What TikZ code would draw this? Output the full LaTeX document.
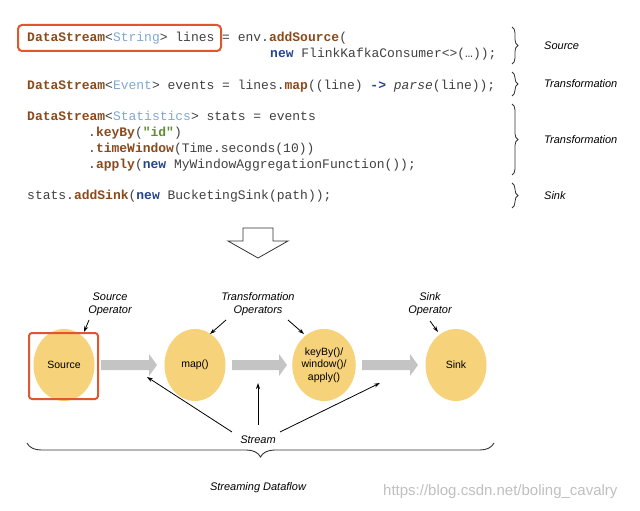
\documentclass[tikz,border=0pt]{standalone}
\usepackage{fontspec}
\setmainfont{Liberation Sans}
\setmonofont{Liberation Mono}
\usetikzlibrary{decorations.pathreplacing,arrows.meta,shapes.geometric}
\definecolor{kw}{HTML}{8A4A1C}
\definecolor{ty}{HTML}{7FA8D4}
\definecolor{nw}{HTML}{24448C}
\definecolor{st}{HTML}{5E8F2E}
\definecolor{yel}{HTML}{F6D27A}
\definecolor{red}{HTML}{E0562E}
\definecolor{gar}{HTML}{C4C4C4}
\newcommand{\K}[1]{\textcolor{kw}{\textbf{#1}}}
\newcommand{\T}[1]{\textcolor{ty}{#1}}
\newcommand{\N}[1]{\textcolor{nw}{\textbf{#1}}}
\begin{document}
\begin{tikzpicture}[x=1pt,y=-1pt,
 code/.style={anchor=base west,inner sep=0,font=\ttfamily\fontsize{13}{15}\selectfont,text=black!75},
 lab/.style={font=\itshape\fontsize{11}{13}\selectfont,align=center,inner sep=0},
 brc/.style={decorate,decoration={brace,amplitude=6pt},thick,black!80},
 op/.style={ellipse,fill=yel,minimum width=61pt,minimum height=72pt,inner sep=0,font=\fontsize{10.5}{12.5}\selectfont,align=center},
 thin/.style={-{Stealth[length=6pt,width=4pt]},black,line width=0.8pt}]
\useasboundingbox (0,0) rectangle (640,511);
\node[code] (c1) at (27,42) {\K{DataStream}<\T{String}> lines = env.\K{addSource}(};
\node[code] (c2) at (270,58) {\N{new} FlinkKafkaConsumer<>(…));};
\node[code] (c3) at (27,89) {\K{DataStream}<\T{Event}> events = lines.\K{map}((line) \N{->} \textit{parse}(line));};
\node[code] (c4) at (27,121) {\K{DataStream}<\T{Statistics}> stats = events};
\node[code] (c5) at (88,136) {.\K{keyBy}(\textcolor{st}{\textbf{"id"}})};
\node[code] (c6) at (88,152) {.\K{timeWindow}(Time.seconds(10))};
\node[code] (c7) at (88,168) {.\K{apply}(\N{new} MyWindowAggregationFunction());};
\node[code] (c8) at (27,199) {stats.\K{addSink}(\N{new} BucketingSink(path));};
\draw[red,line width=2pt,rounded corners=4pt] (18,25) rectangle (221,51);
\draw[brc] (512,27) -- (512,64);
\draw[brc] (512,72) -- (512,96);
\draw[brc] (512,104) -- (512,175);
\draw[brc] (512,183) -- (512,208);
\node[lab,anchor=west] (l1) at (544,46) {Source};
\node[lab,anchor=west] (l2) at (544,84) {Transformation};
\node[lab,anchor=west] (l3) at (544,140) {Transformation};
\node[lab,anchor=west] (l4) at (544,196) {Sink};
\draw[black!80,line width=0.8pt] (243,228) -- (273,228) -- (273,241) -- (288,241) -- (258,258) -- (228,241) -- (243,241) -- cycle;
% operators
\node[op] (src) at (64,365) {Source};
\node[op] (map) at (195,365) {map()};
\node[op] (kb) at (324,365) {keyBy()/\\window()/\\apply()};
\node[op] (snk) at (456,365) {Sink};
\draw[red,line width=2pt,rounded corners=3pt] (29,333) rectangle (98,399);
\foreach \a/\b in {101/157,232/287,362/418}{
 \fill[gar] (\a,360) -- (\b-8,360) -- (\b-8,354) -- (\b,365) -- (\b-8,376) -- (\b-8,370) -- (\a,370) -- cycle;}
\node[lab] (so) at (110,304) {Source\\Operator};
\node[lab] (to) at (258,304) {Transformation\\Operators};
\node[lab] (sko) at (430,304) {Sink\\Operator};
\draw[thin] (89,320) -- (84,332);
\draw[thin] (226,320) -- (210,334);
\draw[thin] (288,320) -- (304,334);
\draw[thin] (430,321) -- (438,332);
\node[lab] (stm) at (258,440) {Stream};
\draw[thin] (232,432) -- (147,377);
\draw[thin] (258,425) -- (258,383);
\draw[thin] (280,432) -- (380,383);
\draw[decorate,decoration={brace,mirror,amplitude=14pt},line width=0.9pt,black!80] (27,443) -- (494,443);
\node[lab] (sdf) at (258,488) {Streaming Dataflow};
\node[anchor=west,inner sep=0,font=\fontsize{15}{17}\selectfont,text=black!25] (wm) at (383,492) {https://blog.csdn.net/boling\_cavalry};
\end{tikzpicture}
\end{document}
